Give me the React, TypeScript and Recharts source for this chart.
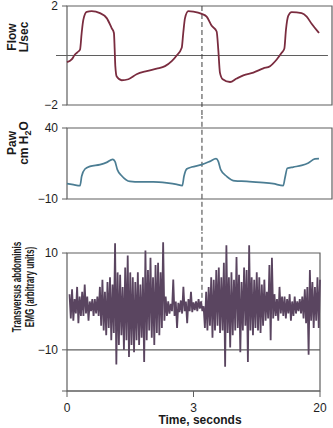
import React from 'react';
import { LineChart, Line, XAxis, YAxis, ReferenceLine, ReferenceArea } from 'recharts';

const FONT = '"Liberation Sans", Arial, Helvetica, sans-serif';
const BOX = '#5f5f5f';

// Flow, L/sec
const flowTime = [0, 0.37, 0.63, 0.82, 1.03, 1.16, 1.29, 1.56, 1.95, 2.61, 3.14, 3.53, 3.71, 3.77, 3.82, 3.93, 4.32, 4.85, 5.5, 6.3, 7.09, 7.75, 8.28, 8.67, 9.07, 9.19, 9.33, 9.59, 9.99, 10.65, 11.04, 11.44, 11.83, 11.96, 12.09, 12.31, 12.89, 13.41, 13.94, 14.73, 15.52, 16.05, 16.58, 16.97, 17.18, 17.31, 17.49, 17.76, 18.55, 18.95, 19.34, 19.92];
const flowValues = [-0.27, -0.16, 0.04, 0.13, 0.24, 0.91, 1.44, 1.76, 1.79, 1.71, 1.51, 1.11, 0.91, 0.24, -0.43, -0.85, -1.0, -0.96, -0.76, -0.63, -0.53, -0.43, -0.23, 0, 0.31, 0.91, 1.51, 1.79, 1.77, 1.68, 1.57, 1.2, 0.97, 0.24, -0.69, -0.96, -1.07, -0.93, -0.8, -0.69, -0.52, -0.43, -0.16, 0.11, 0.27, 1.04, 1.6, 1.75, 1.71, 1.57, 1.28, 0.91];
const flowTicks = [-2, 2];
const flowTickLabels = ['\u22122', '2'];

// Paw, cm H2O
const pawTime = [0, 0.5, 1.03, 1.16, 1.42, 1.82, 2.61, 3.14, 3.61, 3.79, 3.98, 4.32, 4.98, 5.77, 6.82, 7.88, 8.67, 9.11, 9.25, 9.46, 9.86, 10.65, 11.3, 11.78, 11.96, 12.15, 12.62, 13.28, 14.21, 15.26, 16.31, 17.1, 17.23, 17.42, 17.89, 18.55, 19.08, 19.6, 19.92];
const pawValues = [0.8, 0.1, -0.6, 6, 11.1, 13, 14.2, 15.8, 17.9, 16.5, 10.7, 6.4, 2.4, 2, 2, 1.3, 0.3, -0.6, 6, 11.1, 12.5, 14.2, 16.5, 18.4, 16.5, 10.7, 6, 2.7, 2.4, 1.7, 0.8, -0.6, 4.8, 11.6, 12.5, 13.7, 15.4, 18.2, 18.4];
const pawTicks = [-10, 40];
const pawTickLabels = ['\u221210', '40'];

// Transversus abdominis EMG, sampled every 0.1 s from 0.2 s
const emgStart = 0.2;
const emgStep = 0.1;
const emgValues = [
  1.5, -3.5, 2.5, -4, 0.5, -2.5, 3, -4.5, 1, -3,
  2, -3, 3.5, -2.5, 1, -4, 0, -2, 0.5, -3,
  0.5, -2.5, 1, -3, 3, -5, 4.5, -6, 2, -7,
  4, -5.5, 5, -8, 3.5, -6.5, 12, -13, 6, -9,
  5.5, -7, 3, -10, 7, -8, 9.5, -11.5, 6, -9,
  5, -10.5, 4, -8, 6, -9, 3.5, -7.5, 5, -12.5,
  10.5, -8, 6.5, -6, 9, -7.5, 5, -9, 7.5, -6.5,
  8, -7, 6, -5.5, 12.2, -4, 1, -3, 0, -2.5,
  -0.5, -2, 4.5, -3, 0, -5.5, -0.3, -2.2, 0.2, -2.5,
  3, -2, 0, -4.5, 0.5, -2, 2, -2.2, -0.2, -1.8,
  0, -2, 0.5, -1.5, 0, -2, -1, -5.5, 2, -6,
  3, -5, 5, -7.5, 4.5, -6, 6.5, -5, 7, -6.5,
  5, -6, 8, -13.5, 11.6, -6.5, 5, -9.5, 6, -7,
  4.5, -6, 9.2, -5.5, 5.5, -10.5, 4, -6, 7, -5,
  6.5, -12.5, 11.6, -6, 5, -7, 4.5, -5.5, 6, -6,
  5, -6.5, 3.5, -5, 4.5, -4, 2, -3.5, 7.5, -8,
  9, -3.5, 1.5, -3, 0.5, -4, 3, -2.5, 1, -3,
  1, -3.5, 0.5, -2.5, 1.5, -4, 0, -3, 1, -2.5,
  0, -2, 0.5, -2.5, 1, -3.5, 2.5, -4.5, 3, -11,
  6.5, -4, 4, -5.5, 3, -4, 5, -5.5, 4.5,
];
const emgTicks = [-18.5, -10, 10];
const emgTickLabels = ['', '\u221210', '10'];

const timeTicks = [0, 10, 20];
const timeTickLabels = ['0', '3', '20'];

const markerTime = 10.67;

const flowData = flowTime.map((t, i) => ({ t, v: flowValues[i] }));
const pawData = pawTime.map((t, i) => ({ t, v: pawValues[i] }));
const emgData = emgValues.map((v, i) => ({ t: +(emgStart + i * emgStep).toFixed(2), v }));

const labelFrom = (ticks: number[], labels: string[]) => (v: number) => labels[ticks.indexOf(v)] ?? '';

const tickStyle = { fill: '#1e1e1e', fontSize: 12, fontFamily: FONT };

// rotated axis title, one <text> per line; squeeze narrows the glyphs like a condensed face
const SideTitle = ({ lines, xs, cy, size = 12, squeeze = 1 }: any) => (
  <g>
    {lines.map((line: React.ReactNode, i: number) => (
      <text
        key={i}
        x={0}
        y={0}
        transform={`translate(${xs[i]} ${cy}) rotate(-90) scale(${squeeze} 1)`}
        textAnchor="middle"
        fontFamily={FONT}
        fontWeight="bold"
        fontSize={size}
        fill="#1a1a1a"
      >
        {line}
      </text>
    ))}
  </g>
);

const TimeTitle = ({ viewBox }: any) => (
  <text
    x={viewBox.x + viewBox.width / 2 + 6.5}
    y={viewBox.y + 33}
    textAnchor="middle"
    fontFamily={FONT}
    fontWeight="bold"
    fontSize={12}
    fill="#1a1a1a"
  >
    Time, seconds
  </text>
);

const dash = { stroke: '#3c3c3c', strokeWidth: 1, strokeDasharray: '5 3' };

export default function App() {
  return (
    <div style={{ position: 'absolute', left: 0, top: 0, width: 333, height: 428, background: '#fff' }}>
      <LineChart width={333} height={116} data={flowData} margin={{ top: 6, right: 1, bottom: 11, left: 0 }}>
        <XAxis dataKey="t" type="number" domain={[0, 20.95]} hide />
        <YAxis
          type="number"
          domain={[-2, 2]}
          ticks={flowTicks}
          interval={0}
          width={67}
          axisLine={false}
          tickLine={{ stroke: BOX }}
          tickSize={5}
          tickMargin={4}
          tick={tickStyle}
          tickFormatter={labelFrom(flowTicks, flowTickLabels)}
          label={<SideTitle lines={['Flow', 'L/sec']} xs={[15.5, 27.5]} cy={37} />}
        />
        <ReferenceArea x1={0} x2={20.95} y1={-2} y2={2} fill="none" stroke={BOX} strokeWidth={1.2} ifOverflow="visible" />
        <ReferenceLine segment={[{ x: -0.87, y: 0 }, { x: 20.63, y: 0 }]} stroke={BOX} strokeWidth={1.2} ifOverflow="visible" />
        <ReferenceLine segment={[{ x: markerTime, y: 2 }, { x: markerTime, y: -2.6 }]} {...dash} ifOverflow="visible" />
        <Line dataKey="v" type="monotone" stroke="#7a2c3f" strokeWidth={1.8} dot={false} isAnimationActive={false} />
      </LineChart>

      <LineChart width={333} height={116} data={pawData} margin={{ top: 12, right: 1, bottom: 33, left: 0 }}>
        <XAxis dataKey="t" type="number" domain={[0, 20.95]} hide />
        <YAxis
          type="number"
          domain={[-10, 40]}
          ticks={pawTicks}
          interval={0}
          width={67}
          axisLine={false}
          tickLine={{ stroke: BOX }}
          tickSize={5}
          tickMargin={4}
          tick={tickStyle}
          tickFormatter={labelFrom(pawTicks, pawTickLabels)}
          label={
            <SideTitle
              lines={[
                'Paw',
                <>
                  <tspan>cm H</tspan>
                  <tspan dy={3} fontSize={9}>2</tspan>
                  <tspan dy={-3}>O</tspan>
                </>,
              ]}
              xs={[15.5, 27.5]}
              cy={27}
            />
          }
        />
        <ReferenceArea x1={0} x2={20.95} y1={-10} y2={40} fill="none" stroke={BOX} strokeWidth={1.2} ifOverflow="visible" />
        <ReferenceLine segment={[{ x: markerTime, y: 50 }, { x: markerTime, y: -36 }]} {...dash} ifOverflow="visible" />
        <Line dataKey="v" type="monotone" stroke="#4b7d93" strokeWidth={1.7} dot={false} isAnimationActive={false} />
      </LineChart>

      <LineChart width={333} height={196} data={emgData} margin={{ top: 6.5, right: 13, bottom: 0, left: 0 }}>
        <XAxis
          dataKey="t"
          type="number"
          domain={[0, 20]}
          ticks={timeTicks}
          interval={0}
          height={37}
          axisLine={{ stroke: BOX, strokeWidth: 1.2 }}
          tickLine={{ stroke: BOX }}
          tickSize={6}
          tickMargin={6}
          tick={tickStyle}
          tickFormatter={labelFrom(timeTicks, timeTickLabels)}
          label={<TimeTitle />}
        />
        <YAxis
          type="number"
          domain={[-18.5, 13]}
          ticks={emgTicks}
          interval={0}
          width={67}
          axisLine={false}
          tickLine={{ stroke: BOX }}
          tickSize={5}
          tickMargin={4}
          tick={tickStyle}
          tickFormatter={labelFrom(emgTicks, emgTickLabels)}
          label={
            <SideTitle
              lines={['Transversus abdominis', 'EMG (arbitrary units)']}
              xs={[21, 33.5]}
              cy={55}
              size={13.5}
              squeeze={0.6}
            />
          }
        />
        <ReferenceArea x1={0} x2={20} y1={-18.5} y2={10} fill="none" stroke={BOX} strokeWidth={1.2} ifOverflow="visible" />
        <ReferenceLine y={-10} stroke={BOX} strokeWidth={1.2} />
        <ReferenceLine segment={[{ x: markerTime, y: 15 }, { x: markerTime, y: 0 }]} {...dash} ifOverflow="visible" />
        <Line dataKey="v" type="linear" stroke="#5a4560" strokeWidth={1.8} dot={false} isAnimationActive={false} />
      </LineChart>
    </div>
  );
}
